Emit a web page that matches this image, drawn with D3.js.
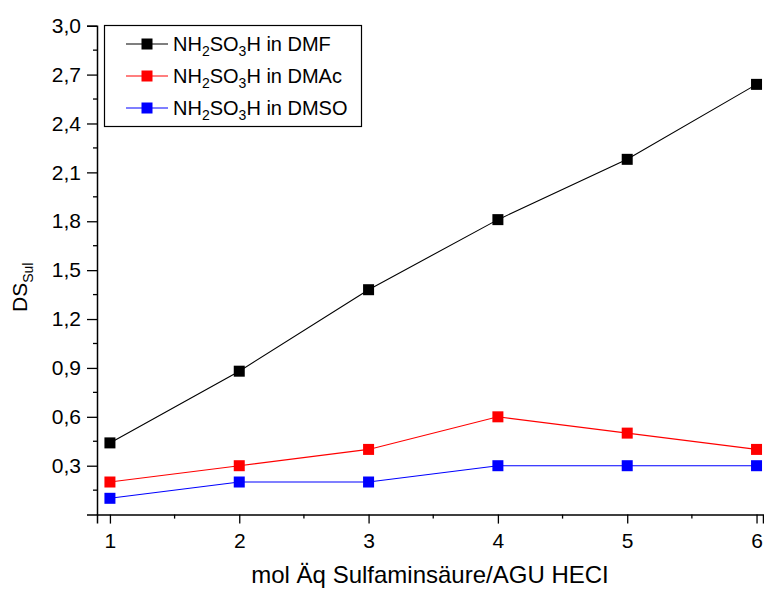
<!DOCTYPE html>
<html>
<head>
<meta charset="utf-8">
<script src="https://cdn.jsdelivr.net/npm/d3@7"></script>
<style>
  body { margin: 0; background: #fff; }
  text { font-family: Arial, "Liberation Sans", sans-serif; fill: #000; }
</style>
</head>
<body>
<div id="chart"></div>
<script>
// data
var xValues = [1, 2, 3, 4, 5, 6];
var dmf = [0.44, 0.88, 1.38, 1.81, 2.18, 2.64];
var dmac = [0.2, 0.3, 0.4, 0.6, 0.5, 0.4];
var dmso = [0.1, 0.2, 0.2, 0.3, 0.3, 0.3];
var seriesNames = ["DMF", "DMAc", "DMSO"];
var seriesColors = ["#000000", "#ff0000", "#0000ff"];
var yTicks = [0.3, 0.6, 0.9, 1.2, 1.5, 1.8, 2.1, 2.4, 2.7, 3.0];
var xTicks = [1, 2, 3, 4, 5, 6];

var W = 764, H = 590;
var svg = d3.select("#chart").append("svg")
  .attr("width", W).attr("height", H);

var x = d3.scaleLinear().domain([0.9, 6.05]).range([97, 763]);
var y = d3.scaleLinear().domain([0, 3.0]).range([514.6, 25.7]);

var fmt = function (d) { return d3.format(".1f")(d).replace(".", ","); };

// y axis
var yAxis = svg.append("g").attr("transform", "translate(97,0)")
  .call(d3.axisLeft(y).tickValues(yTicks).tickFormat(fmt).tickSizeOuter(0).tickSize(10).tickPadding(6));
yAxis.append("g").selectAll("line")
  .data(d3.range(0.15, 3.0, 0.3))
  .join("line")
  .attr("x1", 0).attr("x2", -4)
  .attr("y1", function (d) { return y(d); }).attr("y2", function (d) { return y(d); })
  .attr("stroke", "#000").attr("stroke-width", 1.3);

// x axis
var xAxis = svg.append("g").attr("transform", "translate(0,514.6)")
  .call(d3.axisBottom(x).tickValues(xTicks).tickFormat(d3.format("d")).tickSizeOuter(0).tickSize(9).tickPadding(9));
xAxis.append("g").selectAll("line")
  .data([1.5, 2.5, 3.5, 4.5, 5.5])
  .join("line")
  .attr("y1", 0).attr("y2", 4)
  .attr("x1", function (d) { return x(d); }).attr("x2", function (d) { return x(d); })
  .attr("stroke", "#000").attr("stroke-width", 1.3);

svg.selectAll(".domain").attr("stroke-width", 1.5);
svg.selectAll(".tick line").attr("stroke-width", 1.3);
svg.selectAll(".tick text").style("font-size", "21px").style("font-family", "Arial, 'Liberation Sans', sans-serif");

// axis titles
var yt = svg.append("text")
  .attr("transform", "translate(27,312) rotate(-90)")
  .attr("text-anchor", "start")
  .style("font-size", "21px");
yt.append("tspan").text("DS");
yt.append("tspan").attr("dy", 6).style("font-size", "14px").text("Sul");

svg.append("text")
  .attr("x", 430).attr("y", 583)
  .attr("text-anchor", "middle")
  .style("font-size", "24px")
  .text("mol Äq Sulfaminsäure/AGU HECI");

// series
var allSeries = [dmf, dmac, dmso];
var line = d3.line()
  .x(function (d, i) { return x(xValues[i]); })
  .y(function (d) { return y(d); });

allSeries.forEach(function (vals, s) {
  svg.append("path")
    .datum(vals)
    .attr("d", line)
    .attr("fill", "none")
    .attr("stroke", seriesColors[s])
    .attr("stroke-width", 1.1);
  svg.append("g").selectAll("rect")
    .data(vals)
    .join("rect")
    .attr("x", function (d, i) { return x(xValues[i]) - 5.5; })
    .attr("y", function (d) { return y(d) - 5.5; })
    .attr("width", 11).attr("height", 11)
    .attr("fill", seriesColors[s]);
});

// legend
var legend = svg.append("g");
legend.append("rect")
  .attr("x", 104.5).attr("y", 25.5).attr("width", 257).attr("height", 101)
  .attr("fill", "#fff").attr("stroke", "#000").attr("stroke-width", 1.2);
seriesNames.forEach(function (name, i) {
  var ly = 44 + i * 32;
  legend.append("line")
    .attr("x1", 126).attr("x2", 168).attr("y1", ly).attr("y2", ly)
    .attr("stroke", seriesColors[i]).attr("stroke-width", 1.1);
  legend.append("rect")
    .attr("x", 141.5).attr("y", ly - 5.5).attr("width", 11).attr("height", 11)
    .attr("fill", seriesColors[i]);
  var t = legend.append("text")
    .attr("x", 173).attr("y", ly + 7)
    .style("font-size", "20px");
  t.append("tspan").text("NH");
  t.append("tspan").attr("dy", 5).style("font-size", "14px").text("2");
  t.append("tspan").attr("dy", -5).text("SO");
  t.append("tspan").attr("dy", 5).style("font-size", "14px").text("3");
  t.append("tspan").attr("dy", -5).text("H in " + name);
});
</script>
</body>
</html>
